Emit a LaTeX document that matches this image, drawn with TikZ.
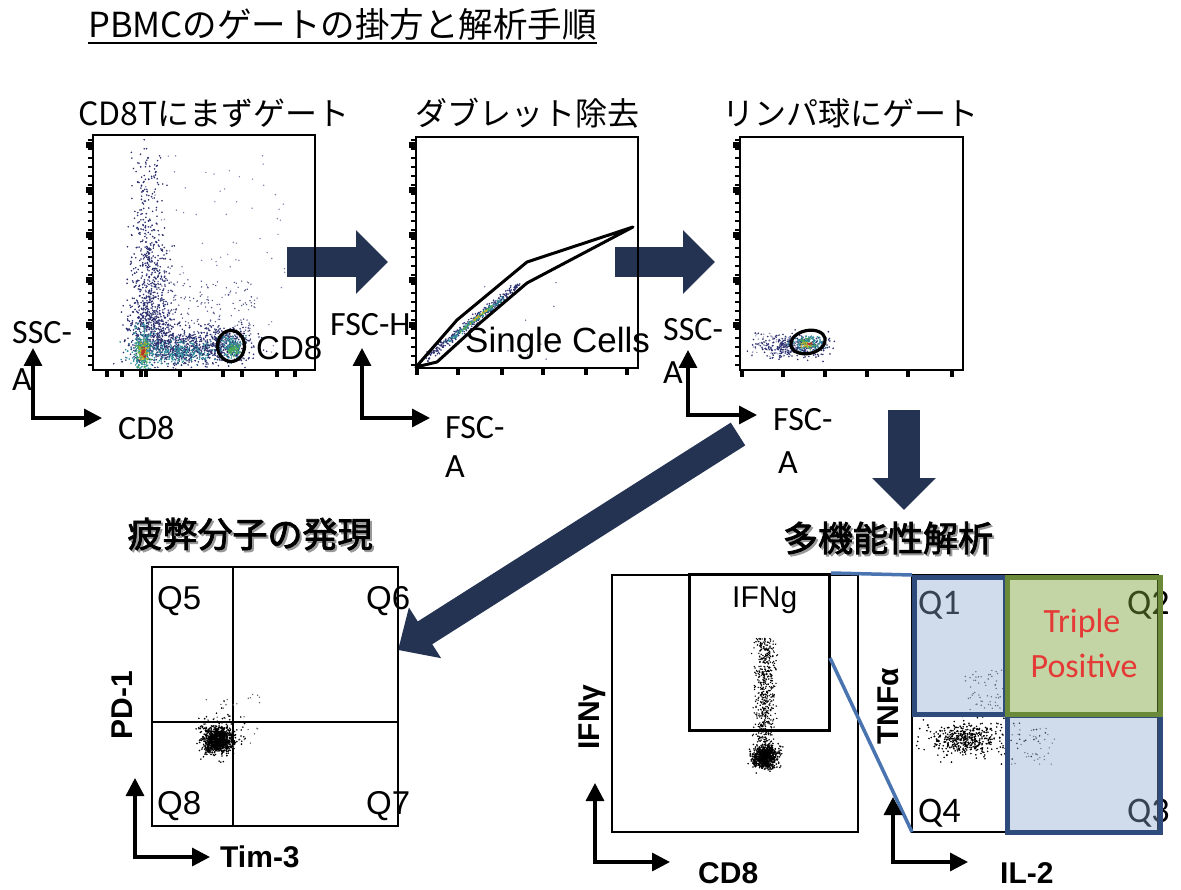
\documentclass[tikz,border=0pt]{standalone}
\usepackage{fontspec}
\setmainfont{Carlito}
\newfontfamily\cjk{Noto Sans CJK JP}
\newfontfamily\cjkbold{Noto Sans CJK JP}[FakeBold=2.5]
\newfontfamily\arialf{Liberation Sans}
\usetikzlibrary{arrows.meta}
\definecolor{navy}{HTML}{243352}
\definecolor{dnavy}{HTML}{2A2E6E}
\definecolor{dteal}{HTML}{2E8C9A}
\definecolor{dgreen}{HTML}{4DAA55}
\definecolor{dyellow}{HTML}{C9B52A}
\definecolor{dred}{HTML}{B8322A}
\definecolor{gblue}{HTML}{4A74B0}
\definecolor{qborder}{HTML}{2F4B7C}
\definecolor{qfill}{HTML}{8AA8CD}
\definecolor{gborder}{HTML}{6A8A3A}
\definecolor{gfill}{HTML}{7AA237}
\definecolor{tpred}{HTML}{E53935}
\newcommand\dotblob[6]{\foreach \i in {1,...,#6}{\fill[#1] ({#2+#4*(rand+rand+rand)},{#3+#5*(rand+rand+rand)}) circle (0.9);}}
\newcommand\dotbox[6]{\foreach \i in {1,...,#6}{\fill[#1] ({#2+#4*rand},{#3+#5*rand}) circle (0.8);}}
\begin{document}
\begin{tikzpicture}[x=1pt,y=-1pt,
  plotframe/.style={draw, line width=2pt, inner sep=0, outer sep=0, anchor=north west},
  thinframe/.style={draw, line width=1.4pt, inner sep=0, outer sep=0, anchor=north west},
  axes/.style={line width=3.4pt, {Triangle[length=18pt,width=18pt]}-{Triangle[length=18pt,width=18pt]}},
  bigarrow/.style={draw=navy, line width=30pt, -{Triangle[length=32pt,width=62pt]}},
  lbl/.style={font=\fontsize{34}{34}\selectfont, inner sep=0, anchor=west},
  alb/.style={font=\arialf\fontsize{33}{33}\selectfont, inner sep=0, anchor=west},
  blb/.style={font=\arialf\bfseries\fontsize{30}{30}\selectfont, inner sep=0},
  jtitle/.style={font=\cjk\fontsize{32}{32}\selectfont, inner sep=0},
  btitle/.style={font=\cjkbold\fontsize{35}{35}\selectfont, inner sep=0},
  qlb/.style={font=\fontsize{36}{36}\selectfont, inner sep=0, anchor=west},
  qbox/.style={line width=5pt, fill opacity=0.4, draw opacity=1, inner sep=0, anchor=north west}
]
\useasboundingbox (0,0) rectangle (1181,890);
\pgfmathsetseed{7}

% ---------- title ----------
\node[font=\cjk\fontsize{34.5}{34.5}\selectfont, inner sep=0, anchor=west] (title) at (88,24) {PBMCのゲートの掛方と解析手順};
\draw[line width=1.6pt] (88,43) -- (title.east |- 0,43);

% ---------- big arrows ----------
\coordinate (a1s) at (287,262); \coordinate (a1t) at (388,262);
\coordinate (a2s) at (615,262); \coordinate (a2t) at (715,262);
\coordinate (a3s) at (904,410); \coordinate (a3t) at (904,510);
\coordinate (a4s) at (738,434); \coordinate (a4t) at (398,650);
\draw[bigarrow] (a1s) -- (a1t);
\draw[bigarrow] (a2s) -- (a2t);
\draw[bigarrow, line width=32pt] (a3s) -- (a3t);
\draw[bigarrow, line width=27pt, -{Triangle[length=32pt,width=58pt]}] (a4s) -- (a4t);

% ---------- plot 1 ----------
\node[jtitle] (t1) at (214,113) {CD8Tにまずゲート};
\begin{scope}
\clip (93,135) rectangle (315,370);
\dotblob{dnavy}{148}{205}{8}{40}{170}
\dotblob{dnavy}{150}{285}{11}{28}{340}
\dotblob{dnavy}{152}{330}{12}{14}{380}
\dotbox{dnavy!60}{215}{255}{70}{100}{90}
\dotbox{dnavy!80}{200}{312}{55}{33}{200}
\dotblob{dnavy}{190}{348}{28}{9}{650}
\dotblob{dteal}{175}{352}{22}{6}{260}
\dotblob{dteal}{143}{350}{5}{12}{200}
\dotblob{dgreen}{143}{352}{3.5}{7}{100}
\dotblob{dyellow}{143}{352}{2.2}{4.5}{55}
\dotblob{dred}{143}{353}{1.3}{2.5}{30}
\dotblob{dnavy}{228}{345}{12}{9}{200}
\dotblob{dteal}{231}{347}{6}{6}{140}
\dotblob{dgreen}{233}{349}{3}{3}{50}
\end{scope}
\draw[line width=3.2pt] (231,346) ellipse (13.5 and 15.5);
\node[alb] (g1) at (256,348) {CD8};
\node[plotframe, minimum width=222pt, minimum height=235pt] (p1) at (93,135) {};
\draw[axes] (33,348) -- (33,418) -- (102,418);
\node[lbl] at (12,333) {SSC-};
\node[lbl] at (12,380) {A};
\node[lbl] at (118,428) {CD8};

% ---------- plot 2 ----------
\node[jtitle] (t2) at (527,113) {ダブレット除去};
\begin{scope}
\clip (416,137) rectangle (638,368);
\foreach \i in {1,...,300}{\pgfmathsetmacro\tt{rand}\fill[dnavy] ({472+47*\tt+2.5*(rand+rand)},{322-37*\tt+2.5*(rand+rand)}) circle (0.9);}
\foreach \i in {1,...,110}{\pgfmathsetmacro\tt{0.6*rand}\fill[dteal] ({474+47*\tt+1.5*(rand+rand)},{321-37*\tt+1.5*(rand+rand)}) circle (0.9);}
\foreach \i in {1,...,45}{\pgfmathsetmacro\tt{0.35*rand}\fill[dgreen] ({476+47*\tt+rand},{319-37*\tt+rand}) circle (0.9);}
\foreach \i in {1,...,18}{\pgfmathsetmacro\tt{0.2*rand}\fill[dyellow] ({478+47*\tt+rand},{317-37*\tt+rand}) circle (0.9);}
\dotbox{dnavy!70}{520}{320}{40}{40}{12}
\end{scope}
\draw[line width=3pt, line join=round] (416,367) -- (457,320) -- (527,262) -- (633,227) -- (527,283) -- (480,323) -- (437,362) -- cycle;
\node[alb, font=\arialf\fontsize{35}{35}\selectfont] (g2) at (465,343) {Single Cells};
\node[plotframe, minimum width=222pt, minimum height=231pt] (p2) at (416,137) {};
\draw[axes] (362,348) -- (362,418) -- (430,418);
\node[lbl] at (330,325) {FSC-H};
\node[lbl] at (445,428) {FSC-};
\node[lbl] at (445,467) {A};

% ---------- plot 3 ----------
\node[jtitle] (t3) at (850,113) {リンパ球にゲート};
\begin{scope}
\clip (740,137) rectangle (963,370);
\dotblob{dnavy}{793}{346}{17}{6}{320}
\dotbox{dnavy!50}{775}{345}{25}{12}{60}
\dotblob{dteal}{808}{343}{8}{4}{110}
\dotblob{dgreen}{808}{344}{4}{2.5}{40}
\dotblob{dyellow}{807}{344}{3}{1.8}{18}
\dotblob{dred}{809}{344}{1.5}{1.2}{8}
\end{scope}
\draw[line width=3.2pt, rotate around={12:(808,342)}] (808,342) ellipse (17.5 and 11.5);
\node[plotframe, minimum width=223pt, minimum height=233pt] (p3) at (740,137) {};
\draw[axes] (688,350) -- (688,415) -- (757,415);
\node[lbl] at (663,330) {SSC-};
\node[lbl] at (663,373) {A};
\node[lbl] at (773,420) {FSC-};
\node[lbl] at (778,463) {A};

% ticks for the three top plots
\foreach \px in {93,416,740}{
  \foreach \yy in {140,149,...,366}{\draw[line width=1.8pt] (\px,\yy) -- ++(-5,0);}
  \foreach \yy in {145,190,235,280,325}{\fill (\px-7,\yy-2.8) rectangle (\px,\yy+2.8);}
}
\foreach \xx in {107,122,141,146,180,223,242,277,295}{\fill (\xx-2.2,370) rectangle (\xx+2.2,377);}
\foreach \xx in {417,458,502,543,586,627}{\fill (\xx-2.2,368) rectangle (\xx+2.2,375);}
\foreach \xx in {742,783,825,867,908,952}{\fill (\xx-2.2,370) rectangle (\xx+2.2,377);}

% ---------- bottom left plot ----------
\node[btitle, text=black!40] at (252,536) {疲弊分子の発現};
\node[btitle] (t4) at (250,534) {疲弊分子の発現};
\node[thinframe, minimum width=246pt, minimum height=259pt] (p4) at (152,567) {};
\draw[line width=1.4pt] (233,567) -- (233,826);
\draw[line width=1.4pt] (152,722) -- (398,722);
\begin{scope}
\clip (152,567) rectangle (398,826);
\dotblob{black}{220}{735}{12}{12}{90}
\dotbox{black!60}{232}{722}{28}{28}{35}
\dotblob{black}{218}{740}{7.5}{6.5}{900}
\end{scope}
\node[alb] at (157,601) {Q5};
\node[alb] at (366,601) {Q6};
\node[alb] at (157,806) {Q8};
\node[alb] at (366,806) {Q7};
\draw[axes] (135,778) -- (135,857) -- (210,857);
\node[blb, rotate=90] at (122,705) {PD-1};
\node[blb, anchor=west] at (220,857) {Tim-3};

% ---------- bottom middle plot ----------
\node[btitle, text=black!40] at (890,540) {多機能性解析};
\node[btitle] (t5) at (888,538) {多機能性解析};
\node[thinframe, minimum width=246pt, minimum height=257pt] (p5) at (612,575) {};
\foreach \i in {1,...,520}{\fill ({765+5*(rand+rand+rand)},{690+52*rand}) circle (0.8);}
\dotblob{black}{765}{757}{6.5}{5.5}{750}
\node[draw, line width=3pt, inner sep=0, anchor=north west, minimum width=140pt, minimum height=156pt] (gate) at (688,573) {};
\node[alb, font=\arialf\fontsize{30}{30}\selectfont] at (732,600) {IFNg};
\draw[axes] (595,783) -- (595,862) -- (670,862);
\node[blb, rotate=90] at (592,717) {IFNγ};
\node[blb, anchor=west] at (698,873) {CD8};

% ---------- right plot (quadrants) ----------
\node[thinframe, fill=white, minimum width=246pt, minimum height=257pt] (p6) at (912,575) {};
\begin{scope}
\clip (912,575) rectangle (1158,832);
\dotblob{black}{965}{740}{14}{7}{320}
\dotblob{black}{975}{738}{28}{11}{160}
\dotbox{black!70}{985}{690}{20}{20}{55}
\dotbox{black!60}{1030}{745}{25}{20}{40}
\end{scope}
\node[qlb] at (918,605) {Q1};
\node[qlb] at (1127,605) {Q2};
\node[qlb] at (1127,813) {Q3};
\node[qlb] at (918,813) {Q4};
\node[qbox, draw=qborder, fill=qfill, minimum width=91pt, minimum height=137pt] (q1) at (912,575) {};
\node[qbox, draw=qborder, fill=qfill, minimum width=153pt, minimum height=117pt] (q3) at (1005,713) {};
\node[qbox, draw=gborder, fill=gfill, fill opacity=0.45, minimum width=153pt, minimum height=137pt] (q2) at (1005,575) {};
\node[font=\fontsize{34}{34}\selectfont, text=tpred, inner sep=0] at (1082,623) {Triple};
\node[font=\fontsize{34}{34}\selectfont, text=tpred, inner sep=0] at (1084,666) {Positive};
\coordinate (q4sw) at (912,832);
\draw[gblue, line width=3.5pt] (gate.north east) -- (q1.north west);
\draw[gblue, line width=3.5pt] (830,658) -- (q4sw);
\draw[axes] (893,797) -- (893,862) -- (968,862);
\node[blb, rotate=90] at (888,706) {TNFα};
\node[blb, anchor=west] at (1000,873) {IL-2};
\end{tikzpicture}
\end{document}
